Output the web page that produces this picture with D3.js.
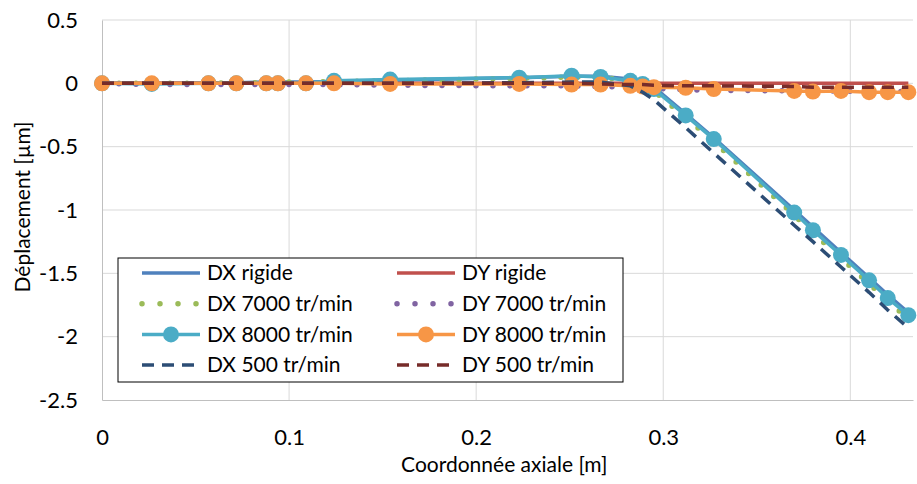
<!DOCTYPE html>
<html>
<head>
<meta charset="utf-8">
<script src="https://cdn.jsdelivr.net/npm/d3@7"></script>
<style>
  body { margin: 0; background: #fff; }
  text { font-family: Lato, "Open Sans", sans-serif; fill: #000; }
</style>
</head>
<body>
<svg id="chart" width="917" height="484"></svg>
<script>
// axial coordinate of each node [m]
const xNodes = [0, 0.0266, 0.0569, 0.0718, 0.0878, 0.094, 0.109, 0.124, 0.154, 0.223, 0.251, 0.2665,
                0.2824, 0.289, 0.295, 0.312, 0.327, 0.370, 0.380, 0.395, 0.410, 0.420, 0.431];

// displacements [µm]
const dxRigide = [0, 0, 0.005, 0.005, 0.01, 0.01, 0.01, 0.015, 0.025, 0.045, 0.055, 0.055,
                  0.035, 0.005, -0.03, -0.24, -0.43, -1.0, -1.135, -1.335, -1.535, -1.67, -1.81];
const dyRigide = [0, 0, 0, 0, 0, 0, 0, 0, 0, 0, 0, 0, 0, 0, 0, 0, 0, 0, 0, 0, 0, 0, 0];
const dx7000 = [0, 0, 0, 0.005, 0.005, 0.01, 0.01, 0.015, 0.02, 0.04, 0.05, 0.05,
                0.02, -0.02, -0.06, -0.27, -0.46, -1.04, -1.18, -1.38, -1.58, -1.72, -1.86];
const dy7000 = [0, -0.01, -0.01, -0.01, -0.01, -0.01, -0.01, -0.01, -0.015, -0.02, -0.02, -0.025,
                -0.03, -0.035, -0.04, -0.05, -0.055, -0.06, -0.06, -0.06, -0.065, -0.065, -0.065];
const dx8000 = [0, -0.005, 0, 0, 0, 0, 0, 0.02, 0.03, 0.045, 0.06, 0.05,
                0.02, -0.005, -0.045, -0.253, -0.44, -1.02, -1.16, -1.355, -1.555, -1.695, -1.83];
const dy8000 = [0, 0, 0, 0, 0, 0, 0, 0, -0.005, -0.005, -0.01, -0.01,
                -0.02, -0.025, -0.03, -0.035, -0.045, -0.06, -0.065, -0.06, -0.07, -0.07, -0.07];
const dx500 = [0, 0, 0, 0, 0, 0, 0, 0, 0, 0.005, 0.01, 0.01,
               -0.02, -0.07, -0.13, -0.35, -0.55, -1.12, -1.25, -1.45, -1.65, -1.79, -1.93];
const dy500 = [0, 0, 0, 0, 0, 0, 0, 0, 0, 0, 0, -0.005,
               -0.01, -0.01, -0.015, -0.02, -0.02, -0.025, -0.03, -0.03, -0.03, -0.03, -0.03];

const seriesNames = ["DX rigide", "DY rigide", "DX 7000 tr/min", "DY 7000 tr/min",
                     "DX 8000 tr/min", "DY 8000 tr/min", "DX 500 tr/min", "DY 500 tr/min"];
const xTicks = [0, 0.1, 0.2, 0.3, 0.4];
const yTicks = [0.5, 0, -0.5, -1, -1.5, -2, -2.5];

const seriesValues = [dxRigide, dyRigide, dx7000, dy7000, dx8000, dy8000, dx500, dy500];

// line styles, one per series
const styles = [
  { color: "#4F81BD", width: 3.5, dash: null, marker: false },
  { color: "#C0504D", width: 3.5, dash: null, marker: false },
  { color: "#9BBB59", width: 5.5, dash: "0 17", marker: false },
  { color: "#8064A2", width: 5.5, dash: "0 17", marker: false },
  { color: "#4BACC6", width: 3.5, dash: null, marker: true },
  { color: "#F79646", width: 3.5, dash: null, marker: true },
  { color: "#2C4D75", width: 3.5, dash: "12 8", marker: false },
  { color: "#772C2A", width: 3.5, dash: "12 8", marker: false }
];

function drawChart() {
  const svg = d3.select("#chart");
  const margin = { top: 20, right: 4, bottom: 84, left: 102 },
        width = +svg.attr("width") - margin.left - margin.right,
        height = +svg.attr("height") - margin.top - margin.bottom;

  const g = svg.append("g").attr("transform", `translate(${margin.left},${margin.top})`);

  const x = d3.scaleLinear().domain([0, 0.4335]).range([0, width]);
  const y = d3.scaleLinear().domain([-2.5, 0.5]).range([height, 0]);

  // gridlines
  g.append("g").selectAll("line").data(yTicks.filter(d => d > -2.5)).enter().append("line")
    .attr("x1", 0).attr("x2", width).attr("y1", d => y(d)).attr("y2", d => y(d))
    .attr("stroke", "#D9D9D9").attr("stroke-width", 1);
  g.append("g").selectAll("line").data(xTicks.filter(d => d > 0)).enter().append("line")
    .attr("y1", 0).attr("y2", height).attr("x1", d => x(d)).attr("x2", d => x(d))
    .attr("stroke", "#D9D9D9").attr("stroke-width", 1);

  // axes (plain hyphen for negatives, like the original)
  const xAxis = g.append("g").attr("transform", `translate(0,${height})`)
    .call(d3.axisBottom(x).tickValues(xTicks).tickSize(0).tickPadding(29).tickFormat(d => String(d)));
  xAxis.select(".domain").attr("stroke", "#BFBFBF");
  xAxis.selectAll("text").style("font-size", "22px");

  const yAxis = g.append("g")
    .call(d3.axisLeft(y).tickValues(yTicks).tickSize(0).tickPadding(24).tickFormat(d => String(d)));
  yAxis.select(".domain").attr("stroke", "#BFBFBF");
  yAxis.selectAll("text").style("font-size", "22px");

  // axis labels
  svg.append("text").attr("x", margin.left + x(0.215)).attr("y", 472)
    .style("text-anchor", "middle").style("font-size", "21px").text("Coordonnée axiale [m]");
  svg.append("text").attr("transform", "translate(30,207) rotate(-90)")
    .style("text-anchor", "middle").style("font-size", "21px").text("Déplacement [µm]");

  // series
  const line = d3.line().x(d => x(d[0])).y(d => y(d[1]));
  seriesValues.forEach((vals, i) => {
    const st = styles[i];
    const pts = xNodes.map((xv, j) => [xv, vals[j]]);
    const path = g.append("path").datum(pts)
      .attr("fill", "none").attr("stroke", st.color).attr("stroke-width", st.width)
      .attr("stroke-linejoin", "round").attr("d", line);
    if (st.dash) {
      path.attr("stroke-dasharray", st.dash)
        .attr("stroke-linecap", st.dash.startsWith("0") ? "round" : "butt");
    }
    if (st.marker) {
      g.append("g").selectAll("circle").data(pts).enter().append("circle")
        .attr("cx", d => x(d[0])).attr("cy", d => y(d[1])).attr("r", 8)
        .attr("fill", st.color);
    }
  });

  // legend
  const legend = svg.append("g").attr("transform", "translate(118,258)");
  legend.append("rect").attr("width", 505).attr("height", 124)
    .attr("fill", "#fff").attr("stroke", "#000").attr("stroke-width", 1);

  const items = legend.selectAll("g.item").data(seriesNames).enter().append("g")
    .attr("class", "item")
    .attr("transform", (d, i) => `translate(${(i % 2) * 255},${15 + Math.floor(i / 2) * 30.7})`);

  items.append("line").attr("x1", 24).attr("x2", 82).attr("y1", 0).attr("y2", 0)
    .attr("stroke", (d, i) => styles[i].color)
    .attr("stroke-width", (d, i) => styles[i].width)
    .attr("stroke-dasharray", (d, i) => styles[i].dash === "0 17" ? "0 18" : styles[i].dash)
    .attr("stroke-linecap", (d, i) => styles[i].dash === "0 17" ? "round" : "butt");
  items.filter((d, i) => styles[i].marker).append("circle")
    .attr("cx", 53).attr("cy", 0).attr("r", 8)
    .attr("fill", d => styles[seriesNames.indexOf(d)].color);
  items.append("text").attr("x", 89).attr("y", 0).attr("dy", ".35em")
    .style("font-size", "21px").text(d => d);
}

drawChart();
</script>
</body>
</html>
